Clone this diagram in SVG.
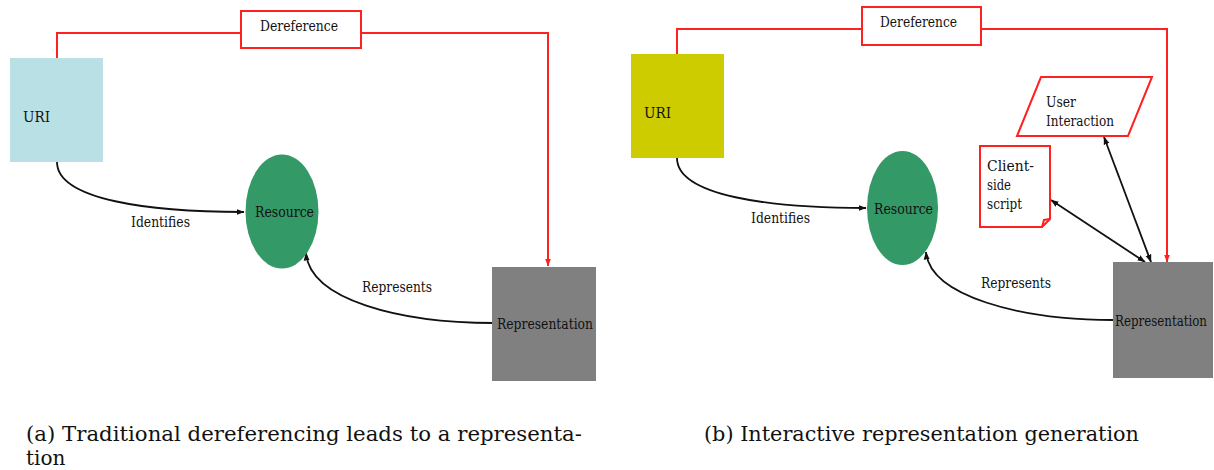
<svg xmlns="http://www.w3.org/2000/svg" width="1214" height="470" viewBox="0 0 1214 470">
<style>
.lbl{font-family:'DejaVu Serif',serif;font-size:14px;fill:#111}
.cap{font-family:'DejaVu Serif',serif;font-size:20px;fill:#111}
.red{fill:none;stroke:#ff2020;stroke-width:2}
.redbox{fill:#fff;stroke:#ff2020;stroke-width:2}
.blk{fill:none;stroke:#111;stroke-width:1.8}
</style>
<defs>
<marker id="ah" markerUnits="userSpaceOnUse" markerWidth="8" markerHeight="7" refX="7.5" refY="3.5" orient="auto-start-reverse">
<path d="M0,0.5 L8,3.5 L0,6.5 z" fill="#111"/>
</marker>
<marker id="ahr" markerUnits="userSpaceOnUse" markerWidth="8" markerHeight="7" refX="7.5" refY="3.5" orient="auto">
<path d="M0,0.5 L8,3.5 L0,6.5 z" fill="#ff2020"/>
</marker>
</defs>

<!-- Panel (a) -->
<g id="connectors-a">
<path class="red" d="M57,58 V33 H241"/>
<path class="red" d="M361,33 H548 V266" marker-end="url(#ahr)"/>
<path class="blk" d="M57,162 C57,200 150,212 244,212" marker-end="url(#ah)"/>
<path class="blk" d="M494,323 C400,323 310,300 306,253" marker-end="url(#ah)"/>
<text class="lbl" x="131" y="227" textLength="59" lengthAdjust="spacingAndGlyphs">Identifies</text>
<text class="lbl" x="362" y="292" textLength="70" lengthAdjust="spacingAndGlyphs">Represents</text>
</g>
<g id="a-dereference">
<rect class="redbox" x="241" y="11" width="120" height="37"/>
<text class="lbl" x="260" y="31" textLength="78" lengthAdjust="spacingAndGlyphs">Dereference</text>
</g>
<g id="a-uri">
<rect x="10" y="58" width="93" height="104" fill="#b9e0e4"/>
<text class="lbl" x="23" y="122" textLength="27" lengthAdjust="spacingAndGlyphs">URI</text>
</g>
<g id="a-resource">
<ellipse cx="282" cy="211.5" rx="36.5" ry="57" fill="#339966"/>
<text class="lbl" x="255" y="217" textLength="59" lengthAdjust="spacingAndGlyphs">Resource</text>
</g>
<g id="a-representation">
<rect x="492" y="267" width="104" height="114" fill="#808080"/>
<text class="lbl" x="497" y="329" textLength="96" lengthAdjust="spacingAndGlyphs">Representation</text>
</g>
<g id="caption-a">
<text class="cap" x="26" y="441" textLength="556" lengthAdjust="spacingAndGlyphs">(a) Traditional dereferencing leads to a representa-</text>
<text class="cap" x="26" y="465">tion</text>
</g>

<!-- Panel (b) -->
<g id="connectors-b">
<path class="red" d="M677,54 V29 H862"/>
<path class="red" d="M981,29 H1167 V262" marker-end="url(#ahr)"/>
<path class="blk" d="M677,158 C677,196 770,208 866,208" marker-end="url(#ah)"/>
<path class="blk" d="M1113,320 C1020,320 930,296 926,252" marker-end="url(#ah)"/>
<path class="blk" d="M1051,200 L1145,262" marker-start="url(#ah)" marker-end="url(#ah)"/>
<path class="blk" d="M1104,137 L1151,262" marker-start="url(#ah)" marker-end="url(#ah)"/>
<text class="lbl" x="751" y="223" textLength="59" lengthAdjust="spacingAndGlyphs">Identifies</text>
<text class="lbl" x="981" y="288" textLength="70" lengthAdjust="spacingAndGlyphs">Represents</text>
</g>
<g id="b-dereference">
<rect class="redbox" x="862" y="7" width="119" height="38"/>
<text class="lbl" x="880" y="27" textLength="77" lengthAdjust="spacingAndGlyphs">Dereference</text>
</g>
<g id="b-uri">
<rect x="631" y="54" width="93" height="104" fill="#cccc00"/>
<text class="lbl" x="644" y="118" textLength="27" lengthAdjust="spacingAndGlyphs">URI</text>
</g>
<g id="b-resource">
<ellipse cx="902.5" cy="208" rx="35.5" ry="57" fill="#339966"/>
<text class="lbl" x="874" y="214" textLength="59" lengthAdjust="spacingAndGlyphs">Resource</text>
</g>
<g id="b-user-interaction">
<polygon class="redbox" points="1041,77 1152,77 1128,136 1017,136"/>
<text class="lbl" x="1046" y="107" textLength="30" lengthAdjust="spacingAndGlyphs">User</text>
<text class="lbl" x="1046" y="126" textLength="68" lengthAdjust="spacingAndGlyphs">Interaction</text>
</g>
<g id="b-client-script">
<path class="redbox" d="M980,146 H1050 V219 L1042,227 H980 Z"/>
<path class="red" d="M1042,227 L1044,220 L1050,219"/>
<text class="lbl" x="987" y="171" textLength="47" lengthAdjust="spacingAndGlyphs">Client-</text>
<text class="lbl" x="987" y="190" textLength="24" lengthAdjust="spacingAndGlyphs">side</text>
<text class="lbl" x="987" y="209" textLength="35" lengthAdjust="spacingAndGlyphs">script</text>
</g>
<g id="b-representation">
<rect x="1113" y="262" width="100" height="116" fill="#808080"/>
<text class="lbl" x="1115" y="326" textLength="92" lengthAdjust="spacingAndGlyphs">Representation</text>
</g>
<g id="caption-b">
<text class="cap" x="704" y="441" textLength="435" lengthAdjust="spacingAndGlyphs">(b) Interactive representation generation</text>
</g>
</svg>
